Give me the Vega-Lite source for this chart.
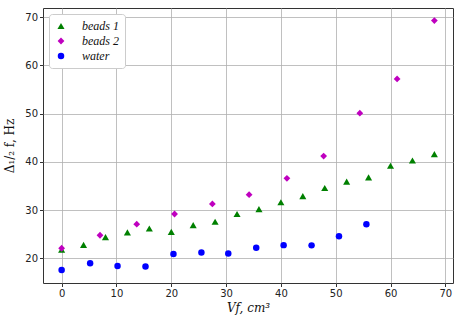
{
  "$schema": "https://vega.github.io/schema/vega-lite/v6.json",
  "width": 410,
  "height": 275,
  "autosize": "none",
  "padding": {"left": 43, "top": 8, "right": 10, "bottom": 44},
  "background": "white",
  "config": {
    "view": {"stroke": "#333", "strokeWidth": 1},
    "axis": {
      "gridColor": "#b0b0b0",
      "gridWidth": 0.8,
      "domain": false,
      "tickColor": "#333",
      "tickSize": 3.5,
      "labelFont": "DejaVu Sans",
      "labelFontSize": 10,
      "labelColor": "#222",
      "titleFont": "DejaVu Serif",
      "titleFontSize": 12,
      "titleFontWeight": "normal",
      "titleColor": "#111"
    }
  },
  "data": {
    "values": [
      {"series": "water", "v": 0, "d": 17.6},
      {"series": "water", "v": 5.2, "d": 19.0},
      {"series": "water", "v": 10.2, "d": 18.4},
      {"series": "water", "v": 15.3, "d": 18.3},
      {"series": "water", "v": 20.4, "d": 20.9},
      {"series": "water", "v": 25.5, "d": 21.2},
      {"series": "water", "v": 30.4, "d": 21.0},
      {"series": "water", "v": 35.5, "d": 22.2},
      {"series": "water", "v": 40.5, "d": 22.75},
      {"series": "water", "v": 45.6, "d": 22.7},
      {"series": "water", "v": 50.6, "d": 24.6},
      {"series": "water", "v": 55.6, "d": 27.1},
      {"series": "beads 1", "v": 0, "d": 21.8},
      {"series": "beads 1", "v": 4, "d": 22.8},
      {"series": "beads 1", "v": 8, "d": 24.4},
      {"series": "beads 1", "v": 12, "d": 25.4},
      {"series": "beads 1", "v": 16, "d": 26.2},
      {"series": "beads 1", "v": 20, "d": 25.5},
      {"series": "beads 1", "v": 24, "d": 26.9},
      {"series": "beads 1", "v": 28, "d": 27.6},
      {"series": "beads 1", "v": 32, "d": 29.2},
      {"series": "beads 1", "v": 36, "d": 30.2},
      {"series": "beads 1", "v": 40, "d": 31.65},
      {"series": "beads 1", "v": 44, "d": 32.9},
      {"series": "beads 1", "v": 48, "d": 34.6},
      {"series": "beads 1", "v": 52, "d": 35.9},
      {"series": "beads 1", "v": 56, "d": 36.8},
      {"series": "beads 1", "v": 60, "d": 39.2},
      {"series": "beads 1", "v": 64, "d": 40.3},
      {"series": "beads 1", "v": 68, "d": 41.6},
      {"series": "beads 2", "v": 0, "d": 22.1},
      {"series": "beads 2", "v": 7.0, "d": 24.8},
      {"series": "beads 2", "v": 13.7, "d": 27.1},
      {"series": "beads 2", "v": 20.6, "d": 29.2},
      {"series": "beads 2", "v": 27.5, "d": 31.3},
      {"series": "beads 2", "v": 34.2, "d": 33.2},
      {"series": "beads 2", "v": 41.1, "d": 36.6},
      {"series": "beads 2", "v": 47.8, "d": 41.2},
      {"series": "beads 2", "v": 54.4, "d": 50.1},
      {"series": "beads 2", "v": 61.2, "d": 57.2},
      {"series": "beads 2", "v": 68, "d": 69.3}
    ]
  },
  "mark": {"type": "point", "filled": true, "opacity": 1},
  "encoding": {
    "x": {
      "field": "v", "type": "quantitative",
      "scale": {"domain": [-3.4, 71.4], "nice": false, "zero": false},
      "axis": {"values": [0, 10, 20, 30, 40, 50, 60, 70], "title": "Vf, cm³", "titleFontStyle": "italic", "titlePadding": 4}
    },
    "y": {
      "field": "d", "type": "quantitative",
      "scale": {"domain": [14.9, 71.9], "nice": false, "zero": false},
      "axis": {"values": [20, 30, 40, 50, 60, 70], "title": "Δ₁/₂ f, Hz", "titlePadding": 8}
    },
    "color": {
      "field": "series", "type": "nominal",
      "scale": {"domain": ["beads 1", "beads 2", "water"], "range": ["#008000", "#bf00bf", "#0000ff"]},
      "legend": {
        "title": null,
        "orient": "top-left",
        "offset": 6,
        "padding": 6,
        "strokeColor": "#cccccc",
        "fillColor": "white",
        "cornerRadius": 3,
        "labelFont": "Liberation Serif",
        "labelFontStyle": "italic",
        "labelFontSize": 12,
        "labelColor": "#111",
        "labelOffset": 15,
        "rowPadding": 3,
        "symbolSize": 45
      }
    },
    "shape": {
      "field": "series", "type": "nominal",
      "scale": {"domain": ["beads 1", "beads 2", "water"], "range": ["triangle-up", "diamond", "circle"]}
    },
    "size": {
      "field": "series", "type": "nominal",
      "scale": {"domain": ["beads 1", "beads 2", "water"], "range": [50, 42, 40]},
      "legend": null
    }
  }
}
